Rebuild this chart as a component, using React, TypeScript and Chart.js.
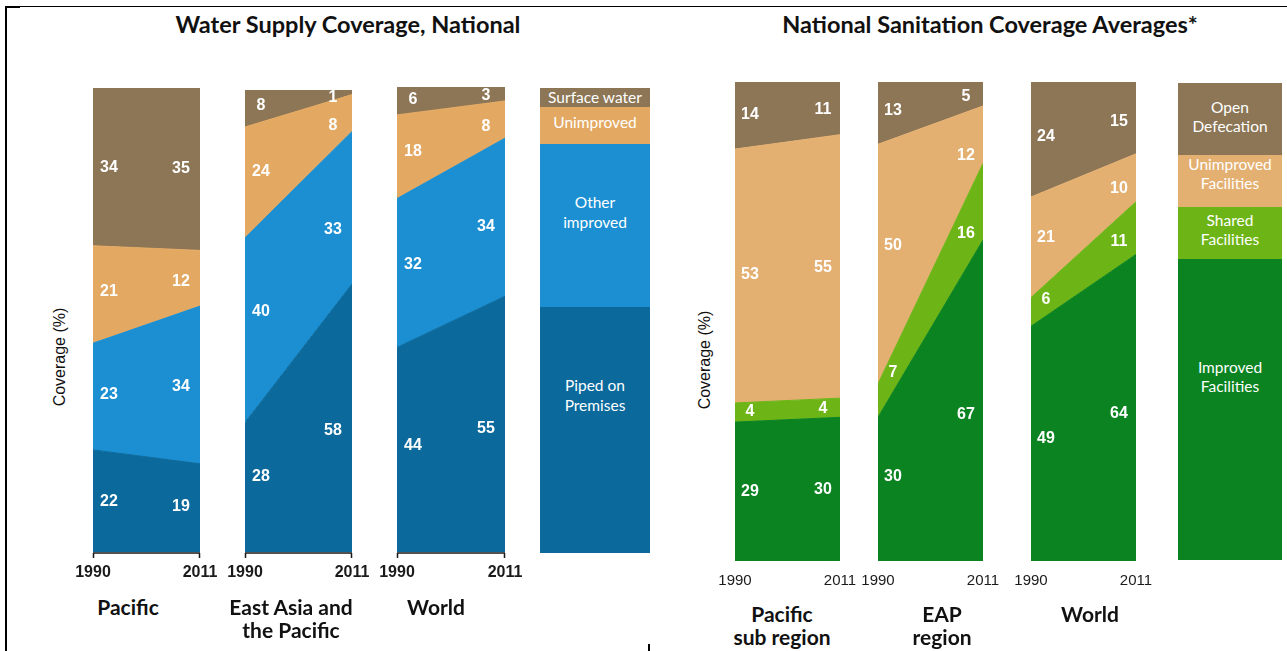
import React, { useEffect, useRef } from "react";
import { Chart, registerables } from "chart.js";

Chart.register(...registerables);

// ---------------- data ----------------
const YEARS = [1990, 2011];
const YEAR_LABELS = ["1990", "2011"];

// Water supply coverage (%), each entry = [1990, 2011]
const waterRegions = ["Pacific", "East Asia and\nthe Pacific", "World"];
const waterSeriesNames = ["Piped on\nPremises", "Other\nimproved", "Unimproved", "Surface water"];
const waterPiped = [[22, 19], [28, 58], [44, 55]];
const waterOtherImproved = [[23, 34], [40, 33], [32, 34]];
const waterUnimproved = [[21, 12], [24, 8], [18, 8]];
const waterSurface = [[34, 35], [8, 1], [6, 3]];

// Sanitation coverage (%), each entry = [1990, 2011]
const sanRegions = ["Pacific\nsub region", "EAP\nregion", "World"];
const sanSeriesNames = ["Improved\nFacilities", "Shared\nFacilities", "Unimproved\nFacilities", "Open\nDefecation"];
const sanImproved = [[29, 30], [30, 67], [49, 64]];
const sanShared = [[4, 4], [7, 16], [6, 11]];
const sanUnimproved = [[53, 55], [50, 12], [21, 10]];
const sanOpen = [[14, 11], [13, 5], [24, 15]];

const waterTitle = "Water Supply Coverage, National";
const sanTitle = "National Sanitation Coverage Averages*";
const yAxisTitle = "Coverage (%)";

// ---------------- styles / layout ----------------
const WATER_COLORS = ["#0B699C", "#1B8FD1", "#E3A962", "#8C7656"];
const SAN_COLORS = ["#0B8321", "#6DB517", "#E4B072", "#8C7656"];

const LATO = 'Lato, "Open Sans", sans-serif';
const ARIAL = '"Liberation Sans", Arial, sans-serif';

const WATER_PANELS = [
  { left: 93, top: 88, right: 200, bottom: 552, labelX: 128 },
  { left: 245, top: 90, right: 352, bottom: 552, labelX: 291 },
  { left: 397, top: 87, right: 505, bottom: 552, labelX: 436 },
];
const SAN_PANELS = [
  { left: 735, top: 82, right: 840, bottom: 561, labelX: 782 },
  { left: 878, top: 82, right: 983, bottom: 561, labelX: 942 },
  { left: 1031, top: 82, right: 1136, bottom: 561, labelX: 1090 },
];

const WATER_LEGEND_BOX = { left: 540, width: 110 };
const WATER_LEGEND_BANDS = [
  { top: 307, bottom: 553, textY: 395 },
  { top: 144, bottom: 307, textY: 212 },
  { top: 107, bottom: 144, textY: 122 },
  { top: 88, bottom: 107, textY: 97 },
];
const SAN_LEGEND_BOX = { left: 1178, width: 104 };
const SAN_LEGEND_BANDS = [
  { top: 259, bottom: 560, textY: 377 },
  { top: 207, bottom: 259, textY: 230 },
  { top: 155, bottom: 207, textY: 174 },
  { top: 83, bottom: 155, textY: 117 },
];

const PAD_L = 32;
const PAD_R = 32;
const PAD_T = 10;
const PAD_B = 36;

type Box = { left: number; top: number; right: number; bottom: number; labelX: number };

type PanelProps = {
  values: number[][];
  colors: string[];
  box: Box;
  waterStyle: boolean;
};

function AreaPanel({ values, colors, box, waterStyle }: PanelProps) {
  const ref = useRef<HTMLCanvasElement>(null);
  const w = box.right - box.left + PAD_L + PAD_R;
  const h = box.bottom - box.top + PAD_T + PAD_B;

  useEffect(() => {
    const canvas = ref.current;
    if (!canvas) return;
    const insetL = waterStyle ? 16 : 15;
    const insetR = waterStyle ? 19 : 17;

    const overlay = {
      id: "overlay",
      afterDatasetsDraw(chart: any) {
        const { ctx, chartArea: ca } = chart;
        const xs = chart.scales.x;
        const ys = chart.scales.y;
        ctx.save();
        ctx.font = `bold 16px ${ARIAL}`;
        ctx.fillStyle = "#ffffff";
        ctx.textAlign = "center";
        ctx.textBaseline = "middle";
        YEARS.forEach((_, k) => {
          const px = k === 0 ? ca.left + insetL : ca.right - insetR;
          const t = (xs.getValueForPixel(px) - YEARS[0]) / (YEARS[1] - YEARS[0]);
          let lo0 = 0;
          let lo1 = 0;
          values.forEach((s) => {
            const hi0 = lo0 + s[0];
            const hi1 = lo1 + s[1];
            const lo = lo0 + (lo1 - lo0) * t;
            const hi = hi0 + (hi1 - hi0) * t;
            let py = ys.getPixelForValue((lo + hi) / 2);
            py = Math.max(py, ca.top + 8);
            ctx.fillText(String(s[k]), px, py);
            lo0 = hi0;
            lo1 = hi1;
          });
        });
        // x axis
        const yb = ca.bottom;
        if (waterStyle) {
          ctx.strokeStyle = "#1a1a1a";
          ctx.lineWidth = 1.5;
          ctx.beginPath();
          const x0 = xs.getPixelForValue(YEARS[0]);
          const x1 = xs.getPixelForValue(YEARS[1]);
          ctx.moveTo(x0, yb + 1);
          ctx.lineTo(x1, yb + 1);
          ctx.moveTo(x0 + 0.5, yb + 1);
          ctx.lineTo(x0 + 0.5, yb + 6);
          ctx.moveTo(x1 - 0.5, yb + 1);
          ctx.lineTo(x1 - 0.5, yb + 6);
          ctx.stroke();
        }
        ctx.fillStyle = "#1a1a1a";
        ctx.font = waterStyle ? `bold 16px ${ARIAL}` : `15px ${ARIAL}`;
        YEARS.forEach((yr, k) => {
          ctx.fillText(YEAR_LABELS[k], xs.getPixelForValue(yr), yb + (waterStyle ? 21 : 20));
        });
        ctx.restore();
      },
    };

    const chart = new Chart(canvas, {
      type: "line",
      data: {
        datasets: values.map((s, i) => ({
          label: String(i),
          data: YEARS.map((yr, k) => ({ x: yr, y: s[k] })),
          backgroundColor: colors[i],
          borderColor: colors[i],
          borderWidth: 1,
          pointRadius: 0,
          tension: 0,
          fill: i === 0 ? "origin" : "-1",
        })),
      },
      options: {
        responsive: false,
        animation: false,
        events: [],
        layout: { padding: { left: PAD_L, right: PAD_R, top: PAD_T, bottom: PAD_B } },
        plugins: { legend: { display: false }, tooltip: { enabled: false } },
        scales: {
          x: { type: "linear", min: YEARS[0], max: YEARS[1], display: false },
          y: { stacked: true, min: 0, max: 100, display: false },
        },
      },
      plugins: [overlay],
    } as any);
    return () => chart.destroy();
  }, []);

  return (
    <canvas
      ref={ref}
      width={w}
      height={h}
      style={{ position: "absolute", left: box.left - PAD_L, top: box.top - PAD_T, width: w, height: h }}
    />
  );
}

type TextProps = {
  x: number;
  y: number;
  text: string;
  size: number;
  weight?: number | string;
  color?: string;
  family?: string;
  lh?: number;
  rotate?: number;
};

function Txt({ x, y, text, size, weight = "normal", color = "#111", family = LATO, lh, rotate = 0 }: TextProps) {
  return (
    <div
      style={{
        position: "absolute",
        left: x,
        top: y,
        transform: `translate(-50%, -50%) rotate(${rotate}deg)`,
        textAlign: "center",
        whiteSpace: "pre",
        fontFamily: family,
        fontSize: size,
        fontWeight: weight as any,
        lineHeight: `${lh ?? size}px`,
        color,
      }}
    >
      {text}
    </div>
  );
}

function LegendColumn({ box, bands, colors, names, lh }: any) {
  return (
    <>
      {bands.map((b: any, i: number) => (
        <div
          key={"b" + i}
          style={{
            position: "absolute",
            left: box.left,
            top: b.top,
            width: box.width,
            height: b.bottom - b.top,
            background: colors[i],
          }}
        />
      ))}
      {bands.map((b: any, i: number) => (
        <Txt key={"t" + i} x={box.left + box.width / 2} y={b.textY} text={names[i]} size={15.5} color="#ffffff" lh={lh} />
      ))}
    </>
  );
}

export default function App() {
  const waterValues = [0, 1, 2].map((r) => [waterPiped[r], waterOtherImproved[r], waterUnimproved[r], waterSurface[r]]);
  const sanValues = [0, 1, 2].map((r) => [sanImproved[r], sanShared[r], sanUnimproved[r], sanOpen[r]]);

  return (
    <div
      style={{
        position: "fixed",
        left: 0,
        top: 0,
        width: 1287,
        height: 651,
        background: "#ffffff",
        overflow: "hidden",
      }}
    >
      {/* frame lines */}
      <div style={{ position: "absolute", left: 5, top: 6, width: 1282, height: 1, background: "#000" }} />
      <div style={{ position: "absolute", left: 5, top: 6, width: 15, height: 2, background: "#000" }} />
      <div style={{ position: "absolute", left: 5, top: 6, width: 2, height: 645, background: "#000" }} />
      <div style={{ position: "absolute", left: 648, top: 644, width: 2, height: 7, background: "#000" }} />

      {/* titles */}
      <Txt x={348} y={25} text={waterTitle} size={23.5} weight="bold" />
      <Txt x={990} y={25} text={sanTitle} size={23.5} weight="bold" />

      {/* y axis titles */}
      <Txt x={60} y={357} text={yAxisTitle} size={16} family={ARIAL} rotate={-90} />
      <Txt x={705} y={360} text={yAxisTitle} size={16} family={ARIAL} rotate={-90} />

      {/* water panels */}
      {WATER_PANELS.map((box, i) => (
        <AreaPanel key={"w" + i} values={waterValues[i]} colors={WATER_COLORS} box={box} waterStyle={true} />
      ))}
      {WATER_PANELS.map((box, i) => (
        <Txt key={"wl" + i} x={box.labelX} y={waterRegions[i].includes("\n") ? 617.5 : 606} text={waterRegions[i]} size={21} weight="bold" lh={23} />
      ))}
      <LegendColumn box={WATER_LEGEND_BOX} bands={WATER_LEGEND_BANDS} colors={WATER_COLORS} names={waterSeriesNames} lh={20} />

      {/* sanitation panels */}
      {SAN_PANELS.map((box, i) => (
        <AreaPanel key={"s" + i} values={sanValues[i]} colors={SAN_COLORS} box={box} waterStyle={false} />
      ))}
      {SAN_PANELS.map((box, i) => (
        <Txt key={"sl" + i} x={box.labelX} y={sanRegions[i].includes("\n") ? 624.5 : 613} text={sanRegions[i]} size={21} weight="bold" lh={23} />
      ))}
      <LegendColumn box={SAN_LEGEND_BOX} bands={SAN_LEGEND_BANDS} colors={SAN_COLORS} names={sanSeriesNames} lh={19} />
    </div>
  );
}
